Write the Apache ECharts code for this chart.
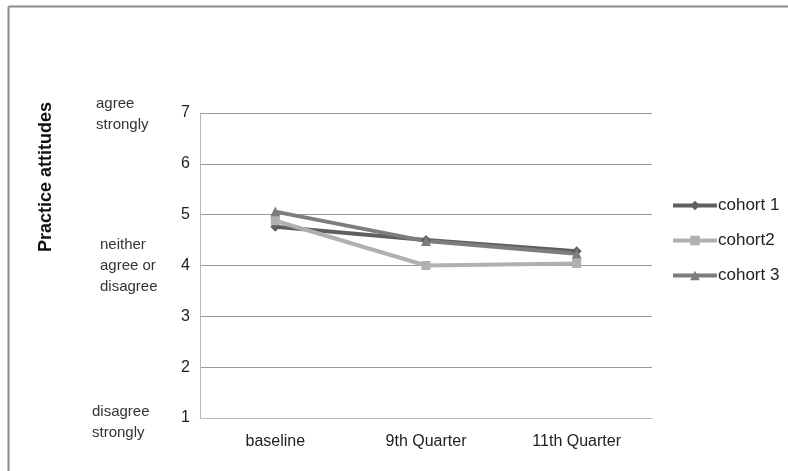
<!DOCTYPE html>
<html><head><meta charset="utf-8">
<script src="https://cdn.jsdelivr.net/npm/echarts@6/dist/echarts.min.js"></script>
<style>html,body{margin:0;padding:0;background:#fff}#c{width:788px;height:471px}</style>
</head><body><div id="c"></div>
<script>
const categories = ['baseline', '9th Quarter', '11th Quarter'];
const cohort1 = [4.76, 4.5, 4.28];
const cohort2 = [4.88, 4.0, 4.04];
const cohort3 = [5.06, 4.48, 4.23];
const seriesNames = ['cohort 1', 'cohort2', 'cohort 3'];
const yTicks = [1, 2, 3, 4, 5, 6, 7];
const yAxisTitle = 'Practice attitudes';
const scaleNotes = ['agree\nstrongly', 'neither\nagree or\ndisagree', 'disagree\nstrongly'];

const chart = echarts.init(document.getElementById('c'));
const FONT = 'Liberation Sans';
const mk = (name, data, color, symbol, size) => ({
  name, type: 'line', data, symbol, symbolSize: size,
  lineStyle: { color, width: 4 }, itemStyle: { color },
  emphasis: { disabled: true }, animation: false
});
chart.setOption({
  animation: false,
  grid: { left: 200, right: 136, top: 113, bottom: 53 },
  xAxis: {
    type: 'category', data: categories, boundaryGap: true,
    axisLine: { lineStyle: { color: '#b8b8b8', width: 1 } },
    axisTick: { show: false },
    axisLabel: { color: '#222', fontSize: 16, fontFamily: FONT, margin: 16 }
  },
  yAxis: {
    type: 'value', min: yTicks[0], max: yTicks[yTicks.length - 1], interval: 1,
    axisLine: { show: true, lineStyle: { color: '#b8b8b8', width: 1 } },
    axisTick: { show: false },
    splitLine: { lineStyle: { color: '#9a9a9a', width: 1 } },
    axisLabel: { color: '#222', fontSize: 16, fontFamily: FONT, margin: 10 }
  },
  legend: {
    orient: 'vertical', left: 666, top: 192,
    itemWidth: 44, itemHeight: 12, itemGap: 18,
    lineStyle: { width: 4 },
    textStyle: { color: '#222', fontSize: 17, fontFamily: FONT, padding: [0, 0, 0, -4] },
    data: seriesNames
  },
  series: [
    mk(seriesNames[0], cohort1, '#5f5f5f', 'diamond', 10),
    mk(seriesNames[1], cohort2, '#b0b0b0', 'rect', 9),
    mk(seriesNames[2], cohort3, '#7d7d7d', 'triangle', 10)
  ],
  graphic: [
    { type: 'line', shape: { x1: 8.5, y1: 6.5, x2: 788, y2: 6.5 }, style: { stroke: '#8a8a8a', lineWidth: 2 } },
    { type: 'line', shape: { x1: 8.5, y1: 6.5, x2: 8.5, y2: 471 }, style: { stroke: '#8a8a8a', lineWidth: 2 } },
    { type: 'text', x: 46, y: 177, rotation: Math.PI / 2,
      style: { text: yAxisTitle, font: 'bold 18px ' + FONT, fill: '#111', align: 'center', verticalAlign: 'middle' } },
    { type: 'text', x: 96, y: 93, style: { text: scaleNotes[0], font: '15px ' + FONT, fill: '#333', lineHeight: 21 } },
    { type: 'text', x: 100, y: 234, style: { text: scaleNotes[1], font: '15px ' + FONT, fill: '#333', lineHeight: 21 } },
    { type: 'text', x: 92, y: 401, style: { text: scaleNotes[2], font: '15px ' + FONT, fill: '#333', lineHeight: 21 } }
  ]
});
</script></body></html>
